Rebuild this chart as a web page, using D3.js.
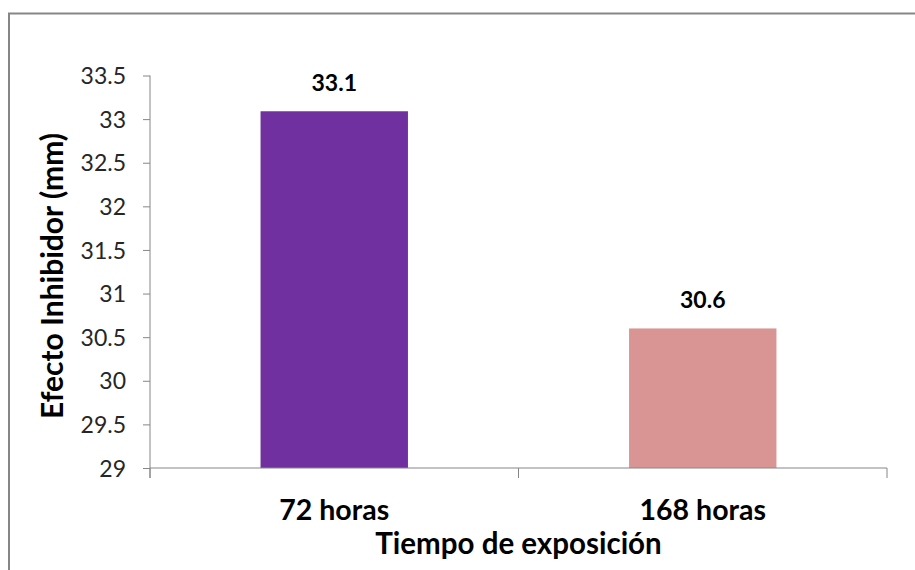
<!DOCTYPE html>
<html><head><meta charset="utf-8">
<script src="https://cdn.jsdelivr.net/npm/d3@7"></script>
<style>body{margin:0;background:#fff}svg{display:block}</style>
</head><body>
<svg id="c" width="915" height="570"></svg>
<script>
const categories = ["72 horas", "168 horas"];
const values = [33.09, 30.6];
const valueLabels = ["33.1", "30.6"];
const yTicks = [29, 29.5, 30, 30.5, 31, 31.5, 32, 32.5, 33, 33.5];
const colors = ["#7030A0", "#D99594"];

const FONT = "Lato, 'Open Sans', sans-serif";
const svg = d3.select("#c");
svg.append("rect").attr("x", 9).attr("y", 13.5).attr("width", 1000).attr("height", 1000)
  .attr("fill", "#fff").attr("stroke", "#868686").attr("stroke-width", 2);

const L = 150, R = 887, T = 75.5, B = 468;
const x = d3.scaleBand().domain(categories).range([L, R]).paddingInner(0.6).paddingOuter(0.3);
const y = d3.scaleLinear().domain([29, 33.5]).range([B, T]);

svg.selectAll("rect.bar").data(values).enter().append("rect").attr("class", "bar")
  .attr("x", (d, i) => x(categories[i])).attr("width", x.bandwidth())
  .attr("y", d => y(d)).attr("height", d => B - y(d))
  .attr("fill", (d, i) => colors[i]);

// y axis
const ya = svg.append("g").attr("transform", `translate(${L},0)`)
  .call(d3.axisLeft(y).tickValues(yTicks).tickSize(7).tickPadding(17).tickFormat(d => String(d)));
ya.select(".domain").remove();
ya.append("line").attr("x1", 0).attr("x2", 0).attr("y1", T).attr("y2", B + 10).attr("stroke", "#868686");
ya.selectAll(".tick line").attr("stroke", "#868686");
ya.selectAll(".tick text").attr("font-family", FONT).attr("font-size", 23).attr("fill", "#262626").attr("dy", "0.35em");

// x axis
const xa = svg.append("g").attr("transform", `translate(0,${B})`);
xa.append("line").attr("x1", L).attr("x2", R).attr("y1", 0).attr("y2", 0).attr("stroke", "#868686");
const bounds = [L, L + (R - L) / 2, R];
xa.selectAll("line.t").data(bounds).enter().append("line").attr("class", "t")
  .attr("x1", d => d).attr("x2", d => d).attr("y1", 0).attr("y2", 10).attr("stroke", "#868686");
xa.selectAll("text").data(categories).enter().append("text")
  .attr("x", d => x(d) + x.bandwidth() / 2).attr("y", 52)
  .attr("text-anchor", "middle").attr("font-family", FONT).attr("font-weight", "bold")
  .attr("font-size", 28.5).attr("fill", "#000").text(d => d);

// value labels
svg.selectAll("text.val").data(values).enter().append("text").attr("class", "val")
  .attr("x", (d, i) => x(categories[i]) + x.bandwidth() / 2).attr("y", d => y(d) - 20)
  .attr("text-anchor", "middle").attr("font-family", FONT).attr("font-weight", "bold")
  .attr("font-size", 23).attr("fill", "#000").text((d, i) => valueLabels[i]);

// titles
svg.append("text").attr("x", (L + R) / 2).attr("y", 554).attr("text-anchor", "middle")
  .attr("font-family", FONT).attr("font-weight", "bold").attr("font-size", 29.5).text("Tiempo de exposición");
svg.append("text").attr("transform", `translate(63,276) rotate(-90)`).attr("text-anchor", "middle")
  .attr("font-family", FONT).attr("font-weight", "bold").attr("font-size", 30).text("Efecto Inhibidor (mm)");
</script>
</body></html>
